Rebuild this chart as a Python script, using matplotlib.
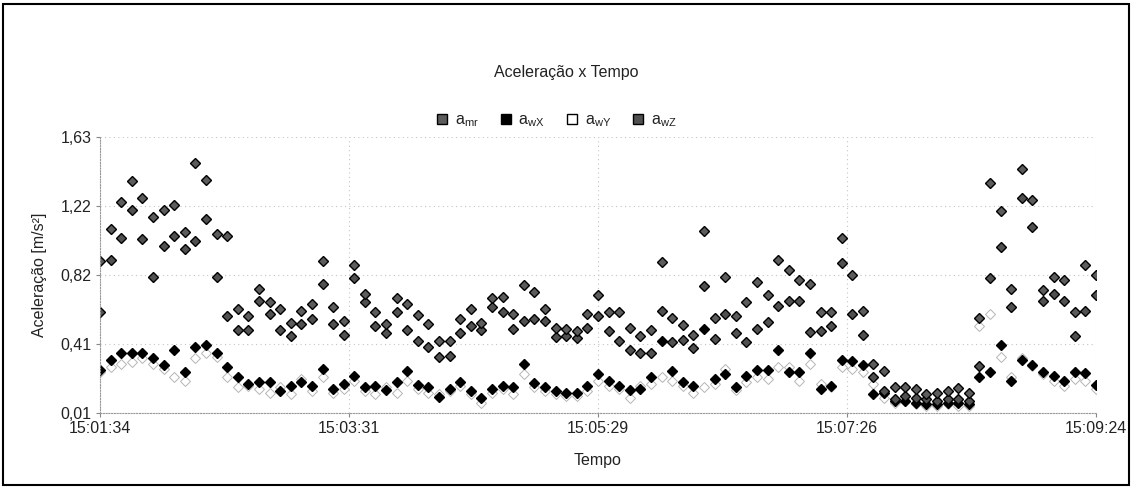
import matplotlib
matplotlib.use("Agg")
import matplotlib.pyplot as plt
from matplotlib.lines import Line2D
from matplotlib.patches import Rectangle
import pandas as pd
import numpy as np

plt.rcParams['font.family'] = ['Liberation Sans', 'DejaVu Sans']

# Sampling: one reading every 5 s starting at 15:01:34
start_time = "2000-01-01 15:01:34"
step_seconds = 5

a_mr = [0.90, 1.09, 1.25, 1.37, 1.27, 1.16, 1.20, 1.23, 1.07, 1.48, 1.38, 1.06, 1.05,
        0.62, 0.58, 0.74, 0.66, 0.62, 0.54, 0.61, 0.65,
        0.90, 0.63, 0.55, 0.88, 0.71, 0.60, 0.53, 0.685, 0.65, 0.585,
        0.53, 0.43, 0.43, 0.56, 0.62, 0.54, 0.685, 0.69, 0.59, 0.76,
        0.72, 0.62, 0.51, 0.505, 0.49, 0.59, 0.70, 0.60, 0.60, 0.51,
        0.46, 0.50, 0.895, 0.565, 0.525, 0.47, 1.08, 0.565, 0.81, 0.58,
        0.66, 0.78, 0.70, 0.91, 0.85, 0.79, 0.77, 0.60, 0.60, 1.04,
        0.82, 0.61, 0.30, 0.255, 0.165, 0.16, 0.15, 0.12, 0.13, 0.14,
        0.155, 0.13, 0.57, 1.36, 1.195, 0.74, 1.44, 1.26, 0.73, 0.81,
        0.79, 0.60, 0.88, 0.82]

a_wZ = [0.60, 0.91, 1.04, 1.20, 1.03, 0.81, 0.99, 1.05, 0.97, 1.02, 1.15, 0.81, 0.58,
        0.50, 0.50, 0.67, 0.59, 0.50, 0.46, 0.53, 0.56,
        0.77, 0.53, 0.47, 0.80, 0.66, 0.52, 0.48, 0.60, 0.50, 0.43,
        0.40, 0.34, 0.345, 0.48, 0.52, 0.50, 0.635, 0.60, 0.505, 0.55,
        0.56, 0.55, 0.455, 0.46, 0.45, 0.51, 0.58, 0.49, 0.43, 0.38,
        0.36, 0.365, 0.61, 0.425, 0.44, 0.39, 0.755, 0.445, 0.59, 0.48,
        0.425, 0.505, 0.545, 0.64, 0.67, 0.665, 0.485, 0.49, 0.52, 0.89,
        0.59, 0.47, 0.22, 0.14, 0.095, 0.11, 0.10, 0.09, 0.08, 0.09,
        0.09, 0.08, 0.285, 0.80, 0.985, 0.63, 1.27, 1.10, 0.665, 0.71,
        0.665, 0.46, 0.61, 0.70]

a_wX = [0.26, 0.32, 0.36, 0.36, 0.36, 0.33, 0.29, 0.38, 0.25, 0.40, 0.41, 0.36, 0.28,
        0.22, 0.18, 0.19, 0.19, 0.14, 0.17, 0.19, 0.17,
        0.27, 0.15, 0.18, 0.23, 0.16, 0.17, 0.145, 0.19, 0.255, 0.175,
        0.16, 0.105, 0.15, 0.19, 0.14, 0.10, 0.15, 0.17, 0.16, 0.30,
        0.185, 0.165, 0.14, 0.13, 0.125, 0.17, 0.24, 0.195, 0.17, 0.145,
        0.15, 0.22, 0.43, 0.255, 0.19, 0.17, 0.505, 0.21, 0.24, 0.16,
        0.225, 0.26, 0.26, 0.38, 0.25, 0.25, 0.36, 0.15, 0.17, 0.32,
        0.315, 0.29, 0.12, 0.13, 0.08, 0.08, 0.07, 0.06, 0.06, 0.07,
        0.07, 0.06, 0.22, 0.25, 0.41, 0.20, 0.32, 0.29, 0.25, 0.23,
        0.195, 0.25, 0.245, 0.175]

a_wY = [0.25, 0.28, 0.30, 0.31, 0.33, 0.30, 0.27, 0.22, 0.20, 0.33, 0.36, 0.34, 0.22,
        0.16, 0.17, 0.15, 0.13, 0.16, 0.12, 0.21, 0.14,
        0.22, 0.13, 0.15, 0.20, 0.14, 0.12, 0.16, 0.13, 0.20, 0.15,
        0.13, 0.12, 0.14, 0.17, 0.12, 0.07, 0.13, 0.15, 0.12, 0.24,
        0.16, 0.14, 0.12, 0.11, 0.11, 0.14, 0.20, 0.17, 0.15, 0.10,
        0.17, 0.18, 0.22, 0.20, 0.17, 0.13, 0.16, 0.18, 0.27, 0.145,
        0.19, 0.22, 0.21, 0.28, 0.28, 0.20, 0.30, 0.18, 0.16, 0.28,
        0.27, 0.25, 0.18, 0.10, 0.07, 0.08, 0.06, 0.05, 0.05, 0.06,
        0.05, 0.05, 0.52, 0.59, 0.34, 0.22, 0.33, 0.285, 0.24, 0.20,
        0.17, 0.21, 0.20, 0.15]

x_tick_labels = ["15:01:34", "15:03:31", "15:05:29", "15:07:26", "15:09:24"]
y_tick_labels = ["0,01", "0,41", "0,82", "1,22", "1,63"]
y_min, y_max = 0.01, 1.63

times = pd.date_range(start=start_time, periods=len(a_mr), freq=f"{step_seconds}s")

fig = plt.figure(figsize=(11.33, 4.88), dpi=100)
ax = fig.add_axes([100 / 1133, 75 / 488, 996 / 1133, 276 / 488])

series = [
    ("a$_\\mathregular{wY}$", a_wY, dict(mfc="white", mec="#b5b5b5", mew=0.7)),
    ("a$_\\mathregular{wX}$", a_wX, dict(mfc="black", mec="black", mew=1.0)),
    ("a$_\\mathregular{wZ}$", a_wZ, dict(mfc="#505050", mec="black", mew=1.0)),
    ("a$_\\mathregular{mr}$", a_mr, dict(mfc="#5c5c5c", mec="black", mew=1.0)),
]
for name, vals, style in series:
    ax.plot(times, vals, linestyle="none", marker="D", ms=5.4, **style)

x0, x1 = times[0], times[-1]
ax.set_xlim(x0, x1)
ax.set_ylim(y_min, y_max)

xt = pd.date_range(start=x0, end=x1, periods=len(x_tick_labels))
ax.set_xticks(xt)
ax.set_xticklabels(x_tick_labels)
ax.set_yticks(np.linspace(y_min, y_max, len(y_tick_labels)))
ax.set_yticklabels(y_tick_labels)

ax.grid(True, color="#c4c4c4", linestyle=(0, (1, 3)), linewidth=0.8)
for side in ("top", "right"):
    ax.spines[side].set_visible(False)
for side in ("left", "bottom"):
    ax.spines[side].set_color("#999999")
    ax.spines[side].set_linestyle((0, (1, 1.5)))
    ax.spines[side].set_linewidth(0.8)
ax.tick_params(axis="both", colors="#888888", length=3, width=0.8, labelsize=11.5,
               labelcolor="#222222")
ax.tick_params(axis="x", pad=3)
ax.tick_params(axis="y", pad=3)

ax.set_xlabel("Tempo", fontsize=11.5, color="#222222", labelpad=12)
ax.set_ylabel("Aceleração [m/s²]", fontsize=11.5, color="#222222", labelpad=10)

fig.text(0.5, 415 / 488, "Aceleração x Tempo", ha="center", va="center",
         fontsize=11.5, color="#222222")

handles = [
    Line2D([], [], linestyle="none", marker="s", ms=7, mfc="#5c5c5c", mec="black", mew=1.0),
    Line2D([], [], linestyle="none", marker="s", ms=7, mfc="black", mec="black", mew=1.0),
    Line2D([], [], linestyle="none", marker="s", ms=7, mfc="white", mec="black", mew=1.0),
    Line2D([], [], linestyle="none", marker="s", ms=7, mfc="#505050", mec="black", mew=1.0),
]
labels = ["a$_\\mathregular{mr}$", "a$_\\mathregular{wX}$", "a$_\\mathregular{wY}$", "a$_\\mathregular{wZ}$"]
fig.legend(handles, labels, loc="center", bbox_to_anchor=(0.49, 367 / 488), ncol=4,
           frameon=False, fontsize=11.5, handletextpad=0.3, columnspacing=1.2,
           handlelength=1.0, labelcolor="#222222")

fig.patches.append(Rectangle((3 / 1133, 3 / 488), 1126 / 1133, 481 / 488,
                             transform=fig.transFigure, fill=False,
                             edgecolor="black", linewidth=1.5))

fig.savefig("out.png", dpi=100)
